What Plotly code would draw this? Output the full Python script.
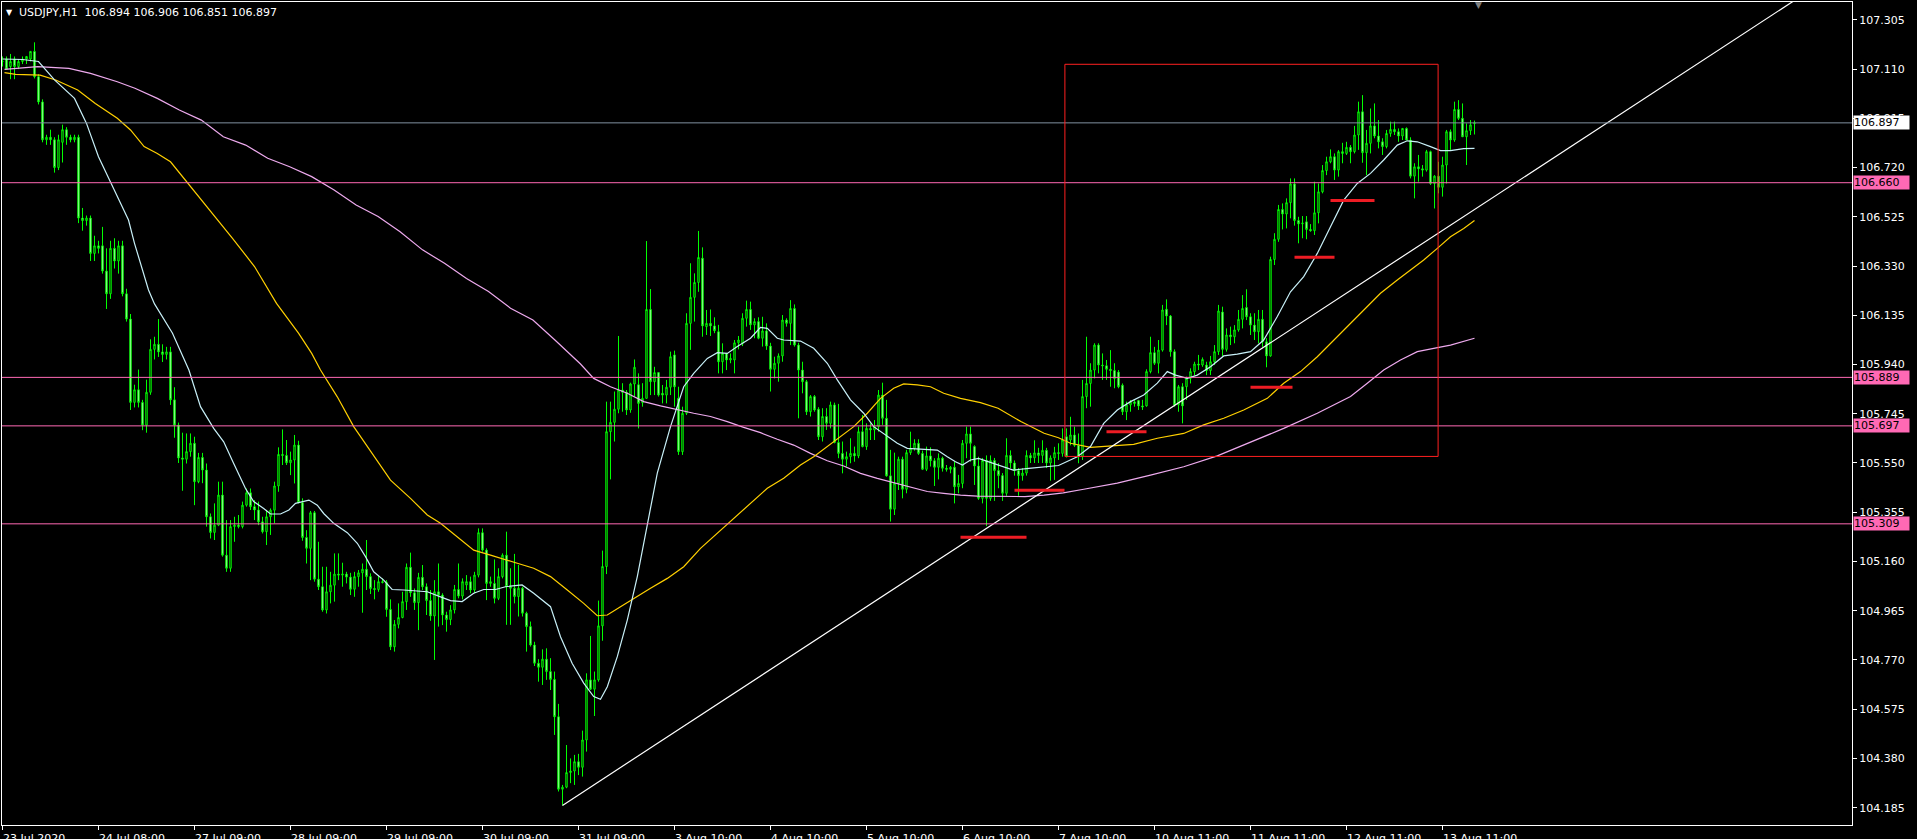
import plotly.graph_objects as go

# ---------------- data ----------------
bars = list(range(369))

opens = [
107.14,107.15,107.12,107.15,107.12,107.14,107.15,107.15,107.18,107.08,
106.98,106.83,106.84,106.83,106.72,106.82,106.87,106.84,106.83,106.84,
106.52,106.51,106.52,106.38,106.41,106.41,106.31,106.22,106.40,106.35,
106.41,106.22,106.12,105.79,105.84,105.79,105.70,105.83,106.00,106.02,
105.99,105.98,105.99,105.80,105.70,105.57,105.565,105.595,105.628,105.476,
105.572,105.522,105.337,105.275,105.304,105.423,105.185,105.133,105.298,105.304,
105.298,105.383,105.432,105.377,105.364,105.317,105.278,105.337,105.363,105.459,
105.584,105.58,105.551,105.562,105.621,105.393,105.255,105.212,105.353,105.09,
105.06,104.968,105.04,105.066,105.11,105.106,105.11,105.098,105.05,105.10,
105.115,105.129,105.10,105.053,105.049,105.08,105.077,104.97,104.822,104.911,
104.938,105.001,105.137,105.036,104.997,105.097,105.06,105.005,104.944,105.04,
105.027,104.948,104.93,104.968,105.049,105.023,105.067,105.08,105.047,105.106,
105.274,105.205,105.073,105.073,105.014,105.100,105.185,105.06,105.054,105.021,
105.054,104.955,104.902,104.829,104.757,104.741,104.773,104.724,104.693,104.545,
104.258,104.266,104.324,104.33,104.367,104.345,104.453,104.691,104.654,104.691,
104.905,105.14,105.674,105.711,105.763,105.839,105.830,105.760,105.863,105.86,
105.789,105.806,106.158,105.872,105.908,105.826,105.819,105.850,105.978,105.806,
105.595,105.747,106.103,106.206,106.265,106.361,106.090,106.103,106.093,106.070,
105.951,105.984,105.958,105.958,106.026,106.024,106.123,106.158,106.097,106.110,
106.044,106.073,106.013,105.921,105.945,105.974,106.116,106.103,106.162,106.017,
105.918,105.872,105.753,105.813,105.763,105.654,105.734,105.707,105.780,105.631,
105.588,105.565,105.575,105.588,105.578,105.674,105.615,105.687,105.681,105.694,
105.819,105.727,105.499,105.367,105.470,105.565,105.446,105.591,105.608,105.628,
105.588,105.525,105.578,105.559,105.533,105.569,105.529,105.525,105.533,105.456,
105.469,105.628,105.665,105.615,105.538,105.41,105.56,105.41,105.56,105.52,
105.50,105.43,105.58,105.55,105.52,105.50,105.51,105.58,105.57,105.59,
105.58,105.60,105.55,105.57,105.591,105.588,105.654,105.641,105.661,105.62,
105.575,105.813,105.865,105.918,106.017,105.938,105.935,105.921,105.916,105.91,
105.858,105.753,105.78,105.792,105.797,105.776,105.776,105.912,105.987,105.945,
105.997,106.159,106.132,105.991,105.78,105.852,105.852,105.885,105.912,105.942,
105.938,105.938,105.916,105.951,105.991,106.148,106.0,106.057,106.05,106.077,
106.119,106.166,106.129,106.096,106.07,106.119,106.03,105.974,106.356,106.436,
106.554,106.536,106.581,106.655,106.51,106.497,106.505,106.475,106.47,106.541,
106.624,106.708,106.743,106.763,106.71,106.783,106.776,106.80,106.783,106.849,
106.941,106.779,106.816,106.885,106.845,106.822,106.803,106.855,106.871,106.862,
106.845,106.875,106.829,106.686,106.723,106.715,106.71,106.783,106.657,106.686,
106.642,106.73,106.862,106.829,106.95,106.915,106.842,106.866,106.894]

highs = [
107.16,107.16,107.17,107.16,107.15,107.16,107.16,107.18,107.216,107.09,
106.99,106.85,106.87,106.84,106.85,106.89,106.88,106.85,106.85,106.85,
106.56,106.53,106.53,106.45,106.43,106.485,106.40,106.43,106.44,106.43,
106.43,106.24,106.14,105.86,105.92,105.80,105.88,106.04,106.05,106.12,
106.02,106.01,106.01,105.85,105.71,105.67,105.667,105.667,105.654,105.59,
105.59,105.548,105.35,105.39,105.476,105.476,105.324,105.324,105.337,105.344,
105.397,105.449,105.449,105.403,105.397,105.337,105.364,105.370,105.476,105.612,
105.683,105.641,105.595,105.661,105.638,105.410,105.284,105.36,105.36,105.238,
105.139,105.139,105.119,105.192,105.192,105.155,105.119,105.115,105.119,105.126,
105.152,105.245,105.113,105.086,105.106,105.093,105.086,105.010,104.928,104.994,
105.040,105.152,105.195,105.053,105.115,105.146,105.073,105.047,105.086,105.152,
105.034,104.961,104.987,105.067,105.152,105.093,105.106,105.100,105.119,105.291,
105.291,105.212,105.100,105.168,105.133,105.192,105.278,105.133,105.19,105.146,
105.06,104.961,104.922,104.842,104.773,104.812,104.816,104.777,104.724,104.596,
104.275,104.433,104.38,104.394,104.398,104.49,104.717,104.865,104.724,105.005,
105.203,105.793,105.793,105.833,106.053,105.866,105.839,105.868,105.960,105.905,
105.866,106.429,106.239,105.931,105.908,105.859,105.879,105.991,105.995,105.852,
105.773,106.143,106.341,106.301,106.469,106.404,106.156,106.158,106.127,106.097,
106.024,105.984,105.984,106.037,106.053,106.143,106.193,106.189,106.123,106.127,
106.129,106.103,106.026,105.971,105.984,106.136,106.123,106.195,106.178,106.026,
105.951,105.879,105.819,105.819,105.771,105.767,105.767,105.793,105.789,105.784,
105.635,105.595,105.648,105.615,105.694,105.740,105.707,105.707,105.720,105.839,
105.868,105.800,105.602,105.591,105.575,105.575,105.602,105.674,105.644,105.644,
105.599,105.615,105.612,105.569,105.588,105.575,105.542,105.538,105.555,105.503,
105.641,105.694,105.694,105.620,105.575,105.57,105.58,105.58,105.57,105.55,
105.51,105.648,105.60,105.56,105.53,105.53,105.60,105.59,105.64,105.61,
105.64,105.61,105.58,105.614,105.628,105.687,105.687,105.733,105.694,105.667,
105.879,106.05,105.945,106.024,106.024,105.984,105.958,105.997,105.945,105.918,
105.865,105.793,105.799,105.799,105.80,105.80,105.921,106.05,106.01,106.037,
106.176,106.198,106.136,106.0,105.859,105.866,105.892,105.925,105.951,105.978,
105.968,105.951,105.974,106.017,106.176,106.169,106.083,106.09,106.096,106.156,
106.215,106.238,106.143,106.143,106.156,106.156,106.044,106.367,106.46,106.572,
106.578,106.598,106.677,106.677,106.525,106.528,106.528,106.496,106.664,106.657,
106.73,106.763,106.792,106.776,106.789,106.818,106.822,106.809,106.885,106.981,
107.007,106.869,106.954,106.974,106.908,106.836,106.869,106.902,106.902,106.875,
106.875,106.879,106.84,106.737,106.77,106.73,106.79,106.787,106.69,106.743,
106.763,106.869,106.871,106.981,106.987,106.974,106.895,106.908,106.906]

lows = [
107.12,107.11,107.07,107.07,107.11,107.13,107.13,107.14,107.073,106.97,
106.82,106.81,106.81,106.70,106.71,106.74,106.81,106.82,106.82,106.50,
106.47,106.49,106.35,106.35,106.38,106.30,106.16,106.20,106.32,106.30,
106.21,106.11,105.76,105.77,105.77,105.68,105.67,105.82,105.96,105.97,
105.95,105.96,105.78,105.65,105.55,105.44,105.548,105.575,105.383,105.47,
105.47,105.298,105.251,105.245,105.30,105.179,105.119,105.119,105.238,105.291,
105.291,105.377,105.364,105.324,105.304,105.271,105.225,105.265,105.311,105.436,
105.542,105.542,105.502,105.469,105.390,105.242,105.152,105.086,105.08,105.047,
104.961,104.954,104.994,105.001,105.086,105.06,105.073,105.027,105.020,105.060,
104.957,105.047,105.031,105.010,105.040,105.073,104.941,104.809,104.803,104.895,
104.935,104.968,105.020,104.968,104.888,105.047,104.948,104.925,104.770,104.902,
104.908,104.882,104.908,104.954,105.014,105.010,105.047,105.034,105.034,105.097,
105.199,105.007,105.060,104.994,105.007,105.093,104.909,104.909,104.994,104.942,
104.942,104.803,104.823,104.746,104.684,104.671,104.691,104.651,104.473,104.249,
104.194,104.262,104.282,104.275,104.314,104.308,104.407,104.651,104.548,104.684,
104.846,105.11,105.485,105.635,105.747,105.753,105.740,105.749,105.813,105.687,
105.773,105.806,105.819,105.819,105.813,105.786,105.786,105.819,105.773,105.582,
105.582,105.74,105.998,106.110,106.228,106.050,106.057,106.053,106.064,105.905,
105.905,105.918,105.945,105.905,106.000,106.013,106.090,106.077,106.044,106.040,
106.011,105.998,105.833,105.885,105.872,105.951,106.090,106.017,106.011,105.727,
105.826,105.740,105.734,105.753,105.641,105.635,105.681,105.687,105.628,105.569,
105.509,105.536,105.549,105.555,105.569,105.612,105.602,105.641,105.641,105.674,
105.701,105.496,105.318,105.344,105.443,105.410,105.430,105.582,105.599,105.582,
105.522,105.518,105.536,105.459,105.485,105.516,105.516,105.509,105.390,105.430,
105.450,105.569,105.555,105.463,105.404,105.39,105.30,105.40,105.40,105.45,
105.40,105.42,105.53,105.50,105.42,105.48,105.50,105.55,105.55,105.55,
105.55,105.53,105.48,105.483,105.562,105.575,105.572,105.62,105.614,105.549,
105.562,105.767,105.773,105.885,105.905,105.879,105.879,105.852,105.846,105.846,
105.74,105.72,105.753,105.773,105.76,105.76,105.773,105.905,105.938,105.905,
105.991,106.096,105.971,105.773,105.753,105.707,105.80,105.865,105.898,105.918,
105.931,105.898,105.898,105.938,105.978,105.974,105.991,106.017,106.024,106.07,
106.083,106.116,106.057,106.037,106.024,106.01,105.929,105.971,106.334,106.426,
106.475,106.479,106.519,106.49,106.42,106.44,106.436,106.466,106.453,106.499,
106.618,106.69,106.737,106.671,106.684,106.737,106.77,106.737,106.776,106.79,
106.739,106.69,106.776,106.836,106.796,106.77,106.796,106.842,106.849,106.822,
106.829,106.829,106.677,106.598,106.664,106.684,106.704,106.651,106.558,106.618,
106.605,106.657,106.79,106.822,106.908,106.842,106.73,106.849,106.851]

closes = [
107.14,107.11,107.14,107.12,107.14,107.15,107.16,107.18,107.08,106.98,
106.83,106.84,106.83,106.72,106.83,106.87,106.84,106.83,106.84,106.52,
106.51,106.52,106.38,106.41,106.40,106.31,106.22,106.40,106.35,106.41,
106.22,106.12,105.79,105.84,105.79,105.70,105.83,106.00,106.02,105.99,
105.98,105.99,105.80,105.70,105.57,105.565,105.595,105.628,105.476,105.572,
105.522,105.337,105.275,105.304,105.423,105.185,105.133,105.298,105.304,105.298,
105.383,105.432,105.377,105.364,105.317,105.278,105.337,105.363,105.459,105.584,
105.58,105.551,105.562,105.621,105.393,105.255,105.212,105.353,105.09,105.06,
104.968,105.04,105.066,105.11,105.106,105.11,105.098,105.05,105.10,105.115,
105.129,105.10,105.053,105.049,105.08,105.077,104.97,104.822,104.911,104.938,
105.001,105.137,105.036,104.997,105.097,105.06,105.005,104.944,105.04,105.027,
104.948,104.93,104.968,105.049,105.023,105.080,105.080,105.047,105.106,105.274,
105.205,105.073,105.080,105.014,105.100,105.185,105.06,105.054,105.021,105.054,
104.955,104.902,104.829,104.757,104.741,104.773,104.724,104.693,104.545,104.258,
104.266,104.324,104.33,104.367,104.345,104.453,104.691,104.654,104.691,104.905,
105.14,105.674,105.711,105.763,105.839,105.830,105.760,105.863,105.929,105.786,
105.806,106.158,105.872,105.908,105.819,105.819,105.850,105.971,105.852,105.595,
105.747,106.103,106.206,106.265,106.364,106.093,106.103,106.093,106.074,105.951,
105.984,105.958,105.964,106.026,106.037,106.123,106.158,106.097,106.110,106.044,
106.073,106.013,105.921,105.945,105.974,106.116,106.103,106.162,106.017,105.918,
105.872,105.753,105.813,105.760,105.654,105.734,105.707,105.780,105.631,105.588,
105.565,105.575,105.588,105.578,105.674,105.615,105.687,105.681,105.694,105.819,
105.727,105.499,105.367,105.470,105.565,105.446,105.591,105.608,105.628,105.588,
105.525,105.578,105.559,105.533,105.569,105.529,105.525,105.533,105.456,105.469,
105.628,105.665,105.628,105.538,105.410,105.56,105.41,105.56,105.52,105.50,
105.43,105.58,105.55,105.52,105.50,105.51,105.58,105.57,105.59,105.58,
105.60,105.55,105.57,105.591,105.588,105.641,105.575,105.661,105.62,105.575,
105.813,105.865,105.918,106.017,105.938,105.935,105.921,105.916,105.885,105.852,
105.753,105.78,105.792,105.786,105.776,105.772,105.912,105.987,105.945,105.997,
106.156,106.132,105.991,105.78,105.852,105.776,105.885,105.912,105.942,105.938,
105.96,105.916,105.951,105.991,106.152,106.0,106.057,106.05,106.077,106.119,
106.162,106.129,106.096,106.07,106.119,106.03,105.974,106.356,106.436,106.554,
106.536,106.581,106.655,106.51,106.497,106.50,106.475,106.47,106.541,106.624,
106.708,106.743,106.763,106.71,106.783,106.776,106.80,106.783,106.849,106.941,
106.779,106.816,106.885,106.845,106.822,106.803,106.855,106.871,106.862,106.845,
106.875,106.829,106.686,106.723,106.715,106.71,106.783,106.657,106.686,106.642,
106.73,106.862,106.829,106.95,106.915,106.842,106.866,106.889,106.897]

# moving averages (bar index, price)
ma_fast_x = [0,5,9,13,18,21,24,27.6,31.5,33,36.5,38,42.5,46.6,49.5,52.8,55.3,57.8,60.75,62.8,
             65.3,67,69.5,71.6,73.25,76.6,78.7,80.3,82.8,86.2,88.7,90.75,92.8,95.3,97.4,100.3,103.7,106.2,109.5,112,
             114.9,117.8,120.3,123.25,125.75,129.9,132.8,137,139.5,142.4,145.3,147.8,149.5,151.2,153.7,156.2,158.7,161.2,163.7,167,
             170.3,172.8,176.2,178.7,181.2,183.7,187,189.5,191.2,193.7,195.3,199.5,202.8,206.2,208.7,212,215.3,217.8,221.2,223.7,
             226.2,229.5,233.7,236.2,238.25,240,242,244,248.9,252.7,256.6,260.4,264,268.7,272,275.3,278.7,282,285.3,288.7,
             291.2,293.25,296.2,298.7,302,305.3,308.7,312,315.3,318.7,322,325.3,328.7,332,335.3,338.7,342,345.3,348.7,351.2,
             353.7,357,359.5,362,365.3,368]
ma_fast_y = [107.15,107.148,107.14,107.067,106.994,106.895,106.763,106.644,106.512,106.42,106.235,106.18,106.064,105.918,105.773,105.687,105.634,105.548,105.449,105.397,
             105.37,105.348,105.348,105.364,105.39,105.403,105.383,105.35,105.311,105.274,105.232,105.179,105.119,105.086,105.049,105.047,105.044,105.04,105.02,105.005,
             105.001,105.034,105.049,105.049,105.06,105.067,105.034,104.981,104.862,104.757,104.678,104.625,104.614,104.664,104.783,104.928,105.10,105.311,105.51,105.694,
             105.852,105.905,105.964,105.987,105.984,106.011,106.044,106.087,106.083,106.044,106.037,106.033,106.004,105.945,105.879,105.80,105.747,105.694,105.654,105.628,
             105.608,105.604,105.601,105.575,105.555,105.542,105.562,105.568,105.542,105.522,105.529,105.536,105.54,105.575,105.615,105.707,105.76,105.793,105.819,105.866,
             105.912,105.898,105.885,105.898,105.931,105.974,105.981,105.991,106.037,106.13,106.228,106.288,106.38,106.486,106.591,106.657,106.697,106.75,106.809,106.826,
             106.822,106.803,106.787,106.787,106.795,106.796]

ma_mid_x = [0.5,3.3,9.4,13.3,18.8,23.2,28.7,32,35.4,38.7,42,46.4,51.9,57.5,63,68.5,74,77.3,79.5,83.7,
            87.8,92.8,97,102,106.2,109.5,113.7,117.8,122,126.2,128.7,132.8,137,141.2,145.3,148.7,151.2,154.5,157.8,162,
            166.2,170.3,174.5,178.7,182.8,187,191.2,195.3,199.5,202.8,207.8,212.8,216.2,219.5,222.8,225.3,228.7,232,235.3,239.5,
            244.5,248.9,254.6,260.4,264,267,272,275.3,282.8,288.7,295.3,300.3,305.3,310.3,316.2,320.3,324.5,328.7,332.8,337,
            342,344.5,348.7,352,355.3,358.7,362,365.3,368]
ma_mid_y = [107.096,107.089,107.086,107.067,107.027,106.974,106.915,106.869,106.803,106.776,106.743,106.657,106.552,106.44,106.328,106.182,106.064,105.984,105.918,105.812,
            105.694,105.581,105.482,105.41,105.344,105.311,105.258,105.205,105.185,105.163,105.153,105.133,105.10,105.047,104.994,104.945,104.948,104.981,105.014,105.054,
            105.093,105.139,105.212,105.272,105.331,105.39,105.45,105.49,105.542,105.575,105.634,105.694,105.747,105.806,105.846,105.863,105.859,105.852,105.826,105.806,
            105.789,105.767,105.714,105.668,105.65,105.628,105.612,105.615,105.624,105.648,105.667,105.701,105.727,105.76,105.806,105.866,105.912,105.971,106.037,106.103,
            106.182,106.222,106.275,106.314,106.354,106.40,106.446,106.479,106.51]

ma_slow_x = [0.5,4.4,8.8,16.6,22,28.7,33.1,38.7,44.2,49.7,55.2,60.8,66.3,71.8,77.3,82.9,88.4,93.9,99.4,105,
             110.5,116,121.5,127,132.6,138.1,144.5,147.8,152,156.2,160.3,164.5,168.7,172.8,177,181.2,185.3,189.5,193.7,197.8,
             202,206.2,210.3,214.5,218.7,222.8,227,231.2,235.3,239.5,243.7,250.8,255.6,260.4,265.2,270.3,278.7,287,295.3,303.7,
             312,320.3,328.7,337,341.2,345.3,349.5,353.7,357.8,362,368]
ma_slow_y = [107.109,107.113,107.12,107.113,107.093,107.06,107.034,106.994,106.948,106.908,106.842,106.809,106.757,106.723,106.684,106.631,106.572,106.526,106.466,106.394,
             106.341,106.281,106.229,106.163,106.116,106.037,105.942,105.885,105.852,105.826,105.793,105.776,105.76,105.747,105.734,105.714,105.691,105.67,105.644,105.621,
             105.588,105.559,105.538,105.509,105.489,105.472,105.454,105.437,105.43,105.423,105.419,105.419,105.417,105.423,105.432,105.446,105.47,105.502,105.535,105.578,
             105.634,105.687,105.747,105.813,105.866,105.918,105.958,105.991,106.004,106.017,106.044]

# horizontal levels
pink_levels = [106.660, 105.889, 105.697, 105.309]
bid_price = 106.897

# trend line (ray from the 31 Jul low)
trend_x = [140, 462.4]
trend_y = [104.194, 107.531]

# red box and red marker segments
box_x = [265.6, 358.9]
box_y = [105.576, 107.129]
seg_x0 = [239.5, 253.0, 276.0, 312.0, 323.0, 332.0]
seg_x1 = [256.0, 265.5, 286.0, 322.5, 333.0, 343.0]
seg_y = [105.256, 105.442, 105.674, 105.850, 106.365, 106.590]

# axes
ytick_vals = [104.185,104.380,104.575,104.770,104.965,105.160,105.355,105.550,105.745,
              105.940,106.135,106.330,106.525,106.720,106.915,107.110,107.305]
xtick_bars = [0,24,48,72,96,120,144,168,192,216,240,264,288,312,336,360]
xtick_text = ["23 Jul 2020","24 Jul 08:00","27 Jul 09:00","28 Jul 09:00","29 Jul 09:00",
              "30 Jul 09:00","31 Jul 09:00","3 Aug 10:00","4 Aug 10:00","5 Aug 10:00",
              "6 Aug 10:00","7 Aug 10:00","10 Aug 11:00","11 Aug 11:00","12 Aug 11:00","13 Aug 11:00"]
title_text = "USDJPY,H1  106.894 106.906 106.851 106.897"

# ---------------- figure ----------------
FONT = "DejaVu Sans"
LIME = "#00ff00"
PINK = "#ff69b4"
GREY = "#8090a0"

fig = go.Figure()

fig.add_trace(go.Candlestick(
    x=bars, open=opens, high=highs, low=lows, close=closes,
    increasing=dict(line=dict(color=LIME, width=1), fillcolor="#000000"),
    decreasing=dict(line=dict(color=LIME, width=1), fillcolor="#ffffff"),
    whiskerwidth=0, showlegend=False, hoverinfo="skip"))

fig.add_trace(go.Scatter(x=ma_slow_x, y=ma_slow_y, mode="lines",
                         line=dict(color="#eeaaee", width=1.2), showlegend=False, hoverinfo="skip"))
fig.add_trace(go.Scatter(x=ma_mid_x, y=ma_mid_y, mode="lines",
                         line=dict(color="#ffd000", width=1.2), showlegend=False, hoverinfo="skip"))
fig.add_trace(go.Scatter(x=ma_fast_x, y=ma_fast_y, mode="lines",
                         line=dict(color="#c8f0f8", width=1.2), showlegend=False, hoverinfo="skip"))
fig.add_trace(go.Scatter(x=trend_x, y=trend_y, mode="lines",
                         line=dict(color="#ffffff", width=1.2), showlegend=False, hoverinfo="skip"))

shapes = []
for lv in pink_levels:
    shapes.append(dict(type="line", xref="paper", x0=0, x1=1, yref="y", y0=lv, y1=lv,
                       line=dict(color=PINK, width=1)))
shapes.append(dict(type="line", xref="paper", x0=0, x1=1, yref="y", y0=bid_price, y1=bid_price,
                   line=dict(color=GREY, width=1)))
shapes.append(dict(type="rect", xref="x", yref="y", x0=box_x[0], x1=box_x[1], y0=box_y[0], y1=box_y[1],
                   line=dict(color="#ff2020", width=1), fillcolor="rgba(0,0,0,0)"))
for a, b, yv in zip(seg_x0, seg_x1, seg_y):
    shapes.append(dict(type="line", xref="x", yref="y", x0=a, x1=b, y0=yv, y1=yv,
                       line=dict(color="#ee1c24", width=3)))

annotations = []
for xb, txt in zip(xtick_bars, xtick_text):
    annotations.append(dict(x=xb, xref="x", y=0, yref="paper", text=txt, showarrow=False,
                            xanchor="left", yanchor="top", yshift=-5, xshift=-2,
                            font=dict(family=FONT, size=11, color="#ffffff")))
# price labels on the right axis
for lv in pink_levels:
    annotations.append(dict(x=1, xref="paper", y=lv, yref="y", text="%.3f" % lv, showarrow=False,
                            xanchor="left", yanchor="middle", xshift=1, bgcolor=PINK,
                            width=55, height=13, align="left", borderpad=0,
                            font=dict(family=FONT, size=11, color="#000000")))
annotations.append(dict(x=1, xref="paper", y=bid_price, yref="y", text="%.3f" % bid_price, showarrow=False,
                        xanchor="left", yanchor="middle", xshift=1, bgcolor="#ffffff",
                        width=55, height=13, align="left", borderpad=0,
                        font=dict(family=FONT, size=11, color="#000000")))
# title
annotations.append(dict(x=0, xref="paper", y=1, yref="paper", text="▼", showarrow=False,
                        xanchor="left", yanchor="top", xshift=2, yshift=-4,
                        font=dict(family=FONT, size=8, color="#ffffff")))
annotations.append(dict(x=0, xref="paper", y=1, yref="paper", text=title_text, showarrow=False,
                        xanchor="left", yanchor="top", xshift=15, yshift=-2,
                        font=dict(family=FONT, size=11, color="#ffffff")))
# chart shift marker
annotations.append(dict(x=369.1, xref="x", y=1, yref="paper", text="▼", showarrow=False,
                        xanchor="center", yanchor="top", yshift=4,
                        font=dict(family=FONT, size=9, color="#808080")))

fig.update_layout(
    width=1917, height=839,
    margin=dict(l=2, r=65, t=2, b=14),
    paper_bgcolor="#000000", plot_bgcolor="#000000",
    boxgap=0.5,
    showlegend=False,
    shapes=shapes, annotations=annotations,
    xaxis=dict(range=[-0.125, 462.375], rangeslider=dict(visible=False),
               tickvals=xtick_bars, showticklabels=False, ticks="outside", ticklen=4,
               tickcolor="#ffffff", showgrid=False, zeroline=False,
               showline=True, linecolor="#ffffff", linewidth=1, mirror=True),
    yaxis=dict(range=[104.1163, 107.3757], side="right",
               tickvals=ytick_vals, ticktext=["%.3f" % v for v in ytick_vals],
               ticks="outside", ticklen=4, tickcolor="#ffffff",
               tickfont=dict(family=FONT, size=11, color="#ffffff"),
               showgrid=False, zeroline=False,
               showline=True, linecolor="#ffffff", linewidth=1, mirror=True),
)

fig.write_html("out.html", config={"displayModeBar": False},
               post_script="document.body.style.margin='0';document.body.style.background='#000';")
